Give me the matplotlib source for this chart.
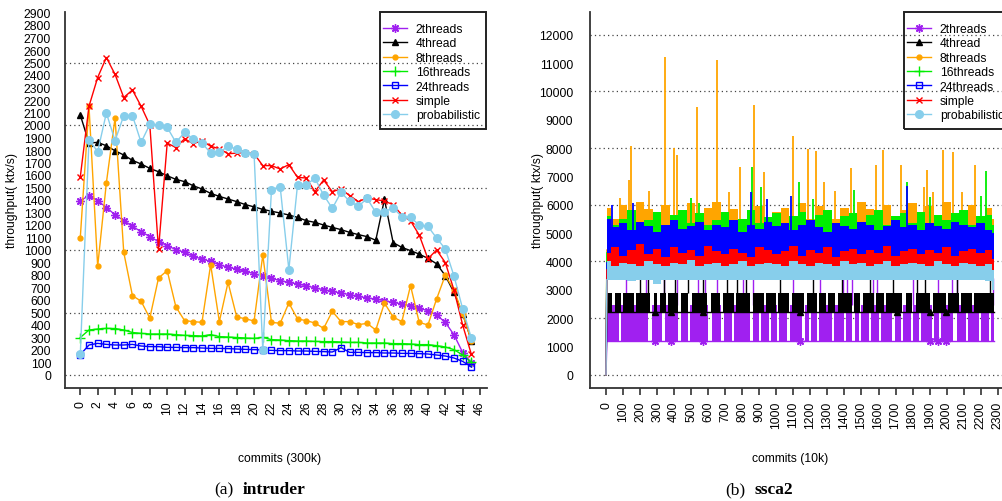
import matplotlib
matplotlib.use('Agg')
import matplotlib.pyplot as plt
from matplotlib.lines import Line2D
from matplotlib.patches import Rectangle
import numpy as np

plt.rcParams['font.family'] = ['Liberation Sans', 'DejaVu Sans']

# ---------------- (a) intruder ----------------
intr_x = list(range(46))
intr_2threads = [1395, 1435, 1395, 1340, 1282, 1235, 1189, 1147, 1107, 1067, 1035, 1003, 981, 949, 928, 909,
                 883, 861, 848, 829, 810, 790, 773, 755, 741, 728, 715, 696, 683, 669, 656, 643, 629, 616,
                 608, 595, 581, 568, 555, 533, 515, 480, 421, 322, 180, 100]
intr_4thread = [2080, 1856, 1861, 1834, 1794, 1760, 1717, 1688, 1653, 1626, 1594, 1565, 1547, 1514, 1488, 1453,
                1429, 1408, 1387, 1363, 1345, 1325, 1310, 1296, 1280, 1261, 1235, 1221, 1200, 1181, 1163, 1141,
                1123, 1107, 1078, 1405, 1059, 1021, 995, 967, 933, 890, 795, 661, 490, 275]
intr_8threads = [1100, 2150, 869, 1537, 2056, 981, 635, 590, 455, 776, 835, 545, 435, 427, 421, 883,
                 427, 741, 464, 450, 432, 960, 421, 414, 576, 448, 435, 416, 373, 509, 427, 427,
                 403, 413, 360, 576, 464, 427, 715, 421, 400, 608, 798, 680, 488, 275]
intr_16threads = [300, 360, 368, 373, 372, 360, 340, 333, 328, 328, 328, 323, 317, 315, 312, 323,
                  307, 304, 300, 296, 293, 301, 283, 280, 275, 272, 272, 269, 267, 267, 264, 261,
                  261, 256, 256, 256, 251, 251, 248, 243, 243, 235, 224, 203, 160, 101]
intr_24threads = [163, 240, 253, 245, 240, 240, 245, 232, 227, 227, 221, 221, 219, 219, 216, 213,
                  213, 211, 208, 205, 203, 200, 197, 195, 195, 192, 192, 189, 187, 184, 219, 181,
                  181, 179, 179, 176, 176, 173, 173, 171, 168, 160, 152, 136, 109, 65]
intr_simple = [1585, 2150, 2380, 2540, 2405, 2220, 2280, 2150, 2000, 1005, 1855, 1820, 1890, 1850, 1875, 1830,
               1810, 1770, 1775, 1780, 1770, 1675, 1675, 1648, 1683, 1581, 1576, 1467, 1560, 1467, 1488, 1435,
               1387, 1416, 1403, 1392, 1362, 1280, 1233, 1120, 930, 1000, 900, 680, 400, 165]
intr_prob = [165, 1880, 1787, 2096, 1875, 2075, 2075, 1861, 2005, 2000, 1981, 1861, 1941, 1888, 1856, 1776,
             1781, 1829, 1808, 1780, 1765, 200, 1483, 1507, 843, 1523, 1523, 1573, 1440, 1333, 1461, 1389,
             1349, 1413, 1301, 1307, 1336, 1267, 1261, 1200, 1189, 1096, 1008, 792, 530, 295]
intr_xticks = list(range(0, 47, 2))
intr_yticks = list(range(0, 3000, 100))
intr_grid = [0, 500, 1000, 1500, 2000, 2500]

# ---------------- (b) ssca2 ----------------
ssca_x = [5] + list(range(50, 2300, 50)) + [2280]
ssca_prob_lo = [3350, 3330, 3330, 3320, 3330, 3330, 3200, 3330, 3330, 3340, 3330, 3330, 3340, 3330, 3330, 3340,
                3330, 3330, 3340, 3330, 3330, 3340, 3330, 3330, 3340, 3330, 3330, 3340, 3330, 3330, 3340, 3330,
                3330, 3340, 3330, 3330, 3340, 3330, 3330, 3340, 3330, 3330, 3340, 3330, 3330, 3300, 3000]
ssca_prob_hi = [4000, 3850, 3950, 3900, 3850, 4000, 3900, 3850, 3950, 3900, 4050, 3850, 3900, 3950, 3850, 3900,
                4000, 3850, 3900, 3950, 3900, 3850, 4000, 3900, 3850, 3950, 3900, 3850, 4000, 3900, 3950, 3850,
                3900, 4000, 3850, 3900, 3950, 3900, 3850, 4000, 3900, 3850, 3950, 3900, 3850, 3900, 3700]
ssca_simple_lo = [3700] * 47
ssca_simple_hi = [4300, 4500, 4200, 4400, 4600, 4250, 4450, 4150, 4500, 4300, 4400, 4200, 4550, 4350, 4250, 4450,
                  4300, 4150, 4500, 4400, 4250, 4350, 4550, 4200, 4400, 4300, 4500, 4150, 4350, 4450, 4250, 4400,
                  4300, 4550, 4200, 4350, 4450, 4250, 4400, 4300, 4500, 4200, 4350, 4450, 4300, 4400, 4100]
ssca_24_lo = [3950] * 47
ssca_24_hi = [5500, 5200, 5350, 5100, 5400, 5250, 5050, 5300, 5450, 5150, 5250, 5400, 5100, 5300, 5200, 5450,
              5050, 5300, 5150, 5400, 5250, 5350, 5100, 5300, 5450, 5200, 5050, 5350, 5250, 5150, 5400, 5300,
              5100, 5250, 5450, 5200, 5300, 5100, 5350, 5250, 5150, 5400, 5300, 5200, 5350, 5100, 5000]
ssca_16_lo = [4300] * 47
ssca_16_hi = [5600, 5300, 5500, 5800, 5350, 5450, 5750, 5300, 5650, 5800, 5350, 5700, 5300, 5450, 5750, 5300,
              5500, 5800, 5350, 5550, 5700, 5300, 5600, 5750, 5350, 5650, 5800, 5300, 5600, 5700, 5350, 5650,
              5800, 5300, 5600, 5700, 5350, 5750, 5300, 5650, 5450, 5700, 5800, 5300, 5600, 5650, 5300]
ssca_8_lo = [4400] * 47
ssca_8_hi = [5900, 5500, 6000, 5500, 6100, 5850, 5500, 6000, 5500, 5750, 6050, 5500, 5900, 6100, 5500, 5850,
             5500, 5800, 5950, 5500, 5750, 5900, 5500, 6050, 5500, 5950, 5750, 5500, 5900, 5500, 6100, 5850,
             5500, 6000, 5500, 5800, 6050, 5500, 5950, 5500, 6100, 5500, 5800, 6000, 5500, 5900, 5500]
ssca_4_lo = [2200] * 47
ssca_4_hi = [2900] * 47
ssca_2_lo = [1200] * 47
ssca_2_hi = [2450] * 47

ssca_8_spike_x = [82, 135, 145, 251, 348, 399, 417, 532, 652, 724, 789, 871, 930, 1096, 1184, 1231, 1282,
                  1346, 1439, 1584, 1628, 1732, 1865, 1883, 1918, 1977, 2036, 2089, 2167]
ssca_8_spike_y = [6238, 6873, 8084, 6495, 11204, 7992, 7766, 9439, 11109, 6460, 7321, 9520, 7145, 8414, 7967,
                  7908, 6813, 6474, 7285, 7402, 7943, 7402, 6637, 7238, 6460, 7943, 7850, 6460, 7402]
ssca_16_spike_x = [499, 548, 859, 910, 1133, 1217, 1458, 1766, 1903, 2202, 2231]
ssca_16_spike_y = [6226, 6050, 7321, 6615, 6813, 6202, 6520, 6813, 6261, 6320, 7203]
ssca_24_spike_x = [33, 160, 851, 943, 1086, 1766]
ssca_24_spike_y = [5990, 6050, 6438, 6202, 6320, 6672]
ssca_4_spike_x = [200, 245, 341, 405, 483, 571, 709, 767, 822, 1022, 1217, 1384, 1550, 1687, 1824, 1873, 2059, 2255]
ssca_4_spike_y = [5800, 3400, 3700, 3500, 3500, 3400, 3500, 3400, 3600, 3400, 3500, 3400, 3600, 3400, 3500, 3400, 3500, 3400]
ssca_2_spike_x = [117, 233, 339, 415, 542, 581, 654, 803, 865, 1100, 1257, 1394, 1417, 1443, 1570, 1590,
                  1805, 1951, 2030, 2059, 2274]
ssca_2_spike_y = [3400] * 21
ssca_4_gap_x = [43, 92, 170, 268, 307, 356, 434, 493, 605, 679, 757, 855, 934, 1002, 1084, 1172, 1247,
                1296, 1355, 1452, 1501, 1580, 1638, 1750, 1809, 1912, 2000, 2079, 2157]
ssca_4_gap_w = [20, 12, 12, 22, 18, 12, 18, 25, 20, 15, 15, 18, 15, 12, 15, 22, 12, 12, 18, 12, 18, 12,
                12, 22, 20, 18, 12, 12, 12]
ssca_2_gap_x = [82, 258, 337, 434, 489, 611, 685, 747, 855, 904, 963, 1012, 1071, 1159, 1198, 1247, 1335,
                1403, 1452, 1492, 1550, 1609, 1687, 1736, 1795, 1844, 1922, 1961, 2049, 2118, 2196, 2255]
ssca_2_gap_w = [15, 20, 15, 18, 12, 20, 15, 10, 18, 15, 12, 12, 15, 20, 10, 12, 12, 15, 18, 12, 12, 10,
                20, 12, 12, 12, 12, 10, 18, 12, 12, 10]
ssca_2_marker_x = [285, 380, 570, 1140, 1900, 1947.5, 1995]
ssca_4_marker_x = [285, 380, 570, 1140, 1710, 1900, 1995]
ssca_xticks = list(range(0, 2301, 100))
ssca_yticks = list(range(0, 12001, 1000))
ssca_grid = list(range(0, 12001, 2000))

names = ['2threads', '4thread', '8threads', '16threads', '24threads', 'simple', 'probabilistic']
colors = ['#A020F0', '#000000', '#FFA500', '#00EE00', '#0000FF', '#FF0000', '#87CEEB']
mstyle = [dict(marker=(8, 2, 0), ms=6, mew=1.0),
          dict(marker='^', ms=5),
          dict(marker='o', ms=3.5),
          dict(marker='+', ms=7, mew=1.0),
          dict(marker='s', ms=4.5, mfc='none', mew=1.0),
          dict(marker='x', ms=5, mew=1.0),
          dict(marker='o', ms=5.5)]

W, H = 1003, 502
fig = plt.figure(figsize=(W / 100, H / 100), dpi=100)

FS = 8.7


def fx(px):
    return px / W


def fy(py):
    return 1 - py / H


def base_style(ax, xticks, yticks, grid, ypad):
    for s in ['top', 'right']:
        ax.spines[s].set_visible(False)
    for s in ['left', 'bottom']:
        ax.spines[s].set_linewidth(1.3)
        ax.spines[s].set_color('#333333')
    ax.set_xticks(xticks)
    ax.set_xticklabels([str(t) for t in xticks], rotation=90, fontsize=FS)
    ax.set_yticks(yticks)
    ax.set_yticklabels([str(t) for t in yticks], fontsize=FS)
    ax.tick_params(axis='y', length=0, pad=ypad)
    ax.tick_params(axis='x', length=5, width=1.2, pad=4, color='#333333')
    for g in grid:
        ax.axhline(g, color='#444444', lw=0.9, ls=(0, (1, 2.5)), zorder=0.5)


def add_legend(ax, left_px):
    handles = [Line2D([0], [0], color=c, lw=1.0, **m) for c, m in zip(colors, mstyle)]
    leg = ax.legend(handles, names, loc='upper left', bbox_to_anchor=(fx(left_px + 2.7), fy(24.0)),
                    bbox_transform=fig.transFigure, fontsize=FS, frameon=False,
                    borderaxespad=0, borderpad=0, labelspacing=0.2, handlelength=2.0,
                    handletextpad=0.75)
    leg.set_zorder(20)
    rect = Rectangle((fx(left_px), fy(130)), fx(106), 117 / H, transform=fig.transFigure,
                     fill=False, edgecolor='#222222', lw=1.4, zorder=21, clip_on=False)
    fig.add_artist(rect)


# ---- left panel ----
axL = fig.add_axes([fx(65), fy(389), 422 / W, 376 / H])
axL.set_xlim(-1.76, 46.8)
axL.set_ylim(-104, 2904)
base_style(axL, intr_xticks, intr_yticks, intr_grid, 10)
series = [intr_2threads, intr_4thread, intr_8threads, intr_16threads, intr_24threads, intr_simple, intr_prob]
for i, (ys, c, m) in enumerate(zip(series, colors, mstyle)):
    axL.plot(intr_x, ys, color=c, lw=1.0, zorder=2 + i, clip_on=False, **m)
add_legend(axL, 380)

# ---- right panel ----
axR = fig.add_axes([fx(590), fy(389.3), 420 / W, 376.3 / H])
axR.set_xlim(-94, 2372)
axR.set_ylim(-480, 12803)
base_style(axR, ssca_xticks, ssca_yticks, ssca_grid, 12)


def band(ax, lo, hi, c, z, gaps=None, gapw=None):
    x = np.array(ssca_x, float)
    lo = np.array(lo, float)
    hi = np.array(hi, float)
    if gaps is None:
        ax.fill_between(x, lo, hi, color=c, lw=0, zorder=z, step='mid')
        return
    edges = [x[0]]
    for g, w in zip(gaps, gapw):
        edges += [g - w / 2, g + w / 2]
    edges.append(x[-1])
    for a, b in zip(edges[0::2], edges[1::2]):
        xs = np.linspace(a, b, 5)
        ax.fill_between(xs, np.interp(xs, x, lo), np.interp(xs, x, hi), color=c, lw=0, zorder=z)
    ax.plot(x, lo, color=c, lw=1.0, zorder=z)


# purple
band(axR, ssca_2_lo, ssca_2_hi, colors[0], 2, ssca_2_gap_x, ssca_2_gap_w)
axR.vlines(ssca_2_spike_x, 2450, ssca_2_spike_y, color=colors[0], lw=1.0, zorder=2)
axR.plot(ssca_2_marker_x, [1200] * len(ssca_2_marker_x), ls='none', color=colors[0], zorder=2, **mstyle[0])
# black
band(axR, ssca_4_lo, ssca_4_hi, colors[1], 3, ssca_4_gap_x, ssca_4_gap_w)
axR.vlines(ssca_4_spike_x, 2900, ssca_4_spike_y, color=colors[1], lw=1.0, zorder=3)
axR.plot(ssca_4_marker_x, [2200] * len(ssca_4_marker_x), ls='none', color=colors[1], zorder=3, **mstyle[1])
# orange
band(axR, ssca_8_lo, ssca_8_hi, colors[2], 4)
axR.vlines(ssca_8_spike_x, 5500, ssca_8_spike_y, color=colors[2], lw=1.3, zorder=4)
# green
band(axR, ssca_16_lo, ssca_16_hi, colors[3], 5)
axR.vlines(ssca_16_spike_x, 5300, ssca_16_spike_y, color=colors[3], lw=1.3, zorder=5)
# blue
band(axR, ssca_24_lo, ssca_24_hi, colors[4], 6)
axR.vlines(ssca_24_spike_x, 5000, ssca_24_spike_y, color=colors[4], lw=1.3, zorder=6)
# red
band(axR, ssca_simple_lo, ssca_simple_hi, colors[5], 7)
# light blue
band(axR, ssca_prob_lo, ssca_prob_hi, colors[6], 8)
# start from zero
starts = [ssca_2_lo, ssca_4_lo, ssca_8_lo, ssca_16_lo, ssca_24_lo, ssca_simple_lo, ssca_prob_lo]
for i, c in enumerate(colors):
    axR.plot([0, ssca_x[0]], [0, starts[i][0]], color=c, lw=1.0, zorder=2 + i)
add_legend(axR, 904)

# labels
fig.text(fx(12), fy(201), 'throughput( ktx/s)', rotation=90, ha='center', va='center', fontsize=FS)
fig.text(fx(538), fy(201), 'throughput( ktx/s)', rotation=90, ha='center', va='center', fontsize=FS)
fig.text(fx(280), fy(459), 'commits (300k)', ha='center', va='center', fontsize=FS)
fig.text(fx(790), fy(459), 'commits (10k)', ha='center', va='center', fontsize=FS)

cap = dict(fontsize=12.5, va='center', family=['Liberation Serif', 'DejaVu Serif'])
fig.text(fx(234), fy(490), '(a)', ha='right', **cap)
fig.text(fx(243), fy(490), 'intruder', ha='left', fontweight='bold', **cap)
fig.text(fx(745), fy(490), '(b)', ha='right', **cap)
fig.text(fx(755), fy(490), 'ssca2', ha='left', fontweight='bold', **cap)

fig.savefig('out.png', dpi=100)
